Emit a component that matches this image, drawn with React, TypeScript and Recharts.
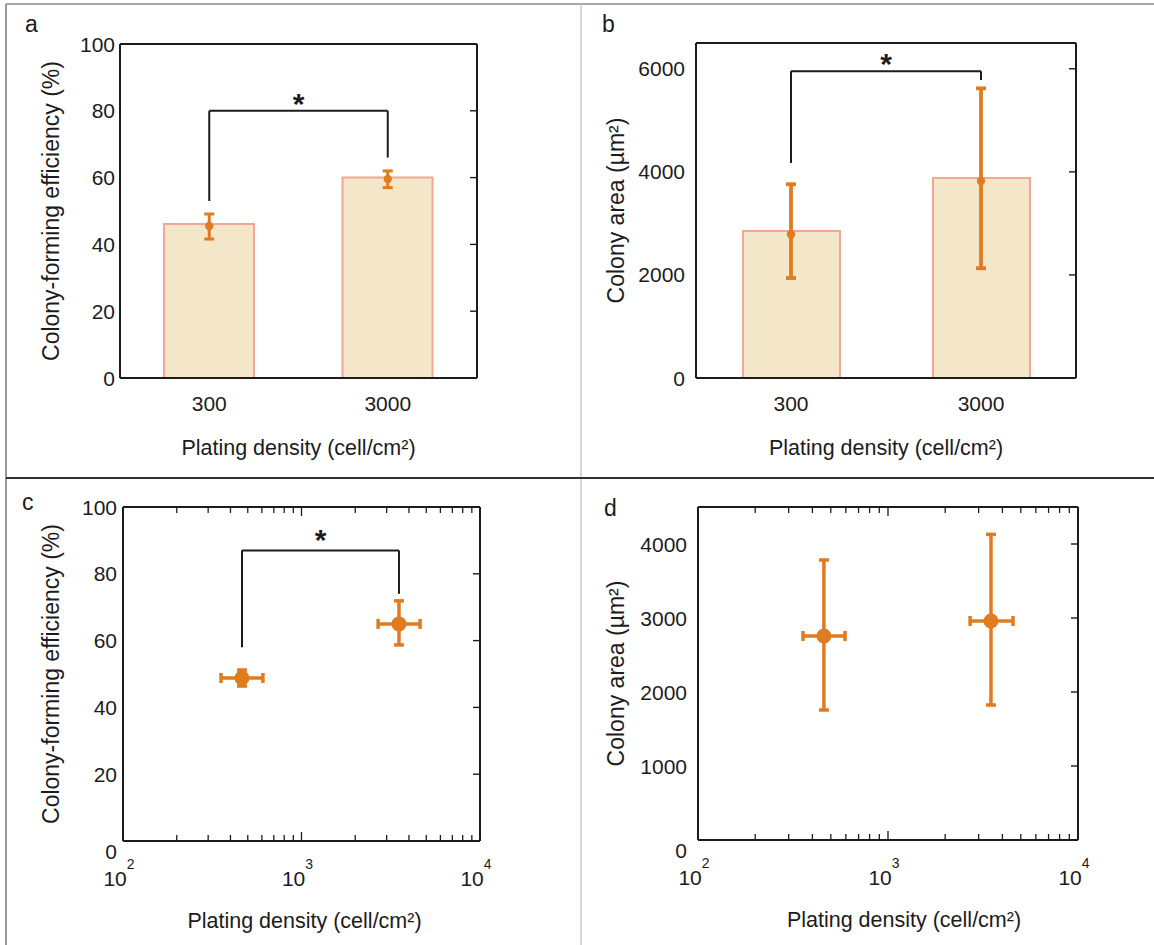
import {
  Bar,
  ComposedChart,
  ErrorBar,
  Line,
  ReferenceLine,
  Scatter,
  ScatterChart,
  XAxis,
  YAxis,
} from 'recharts';

const INK = '#1d1b1c';
const ORANGE = '#e07b20';
const BAR_FILL = '#f4e6c9';
const BAR_EDGE = '#eea893';
const FONT = '"Liberation Sans", Arial, Helvetica, sans-serif';

// panels a + b: bar charts by plating density
const densities = ['300', '3000'];
const efficiencyBars = [46.1, 60.0];
const efficiencyMeans = [45.5, 59.6];
const efficiencyErrors = [
  [3.9, 3.6],
  [2.6, 2.4],
];
const efficiencyBracket = [53, 80, 66]; // left leg end, bridge, right leg end

const areaBars = [2850, 3880];
const areaMeans = [2790, 3820];
const areaErrors = [
  [850, 970],
  [1690, 1800],
];
const areaBracket = [4170, 5950, 5780];

// panels c + d: measured density on a log axis
const cfeDensity = [464, 3516];
const cfeDensityErrors = [
  [110, 144],
  [830, 1100],
];
const cfeValues = [48.8, 65.0];
const cfeValueErrors = [
  [2.4, 2.4],
  [6.3, 6.9],
];
const cfeBracket = [58, 87, 74];

const areaDensity = [460, 3483];
const areaDensityErrors = [
  [103, 134],
  [779, 1067],
];
const areaValues = [2757, 2960];
const areaValueErrors = [
  [1000, 1027],
  [1136, 1170],
];

const pctTicks = [0, 20, 40, 60, 80, 100];
const areaTicksB = [0, 2000, 4000, 6000];
const areaTicksD = [0, 1000, 2000, 3000, 4000];
const logTicks = [
  100, 200, 300, 400, 500, 600, 700, 800, 900, 1000, 2000, 3000, 4000, 5000, 6000, 7000, 8000,
  9000, 10000,
];

const xTitle = 'Plating density (cell/cm²)';
const axisLine = { stroke: INK, strokeWidth: 2 };

function LeftTick(props: any) {
  const { x, y, payload, gap, zeroDy = 0 } = props;
  const dy = payload.value === 0 ? zeroDy : 0;
  return (
    <text x={x - gap} y={y + dy} dy="0.36em" textAnchor="end" fill={INK} fontSize={21} fontFamily={FONT}>
      {payload.value}
    </text>
  );
}

function RightTick({ x, y }: any) {
  return <line x1={x} y1={y} x2={x - 7} y2={y} stroke={INK} strokeWidth={1.4} />;
}

function CatTick({ x, y, payload }: any) {
  return (
    <text x={x} y={y + 33} textAnchor="middle" fill={INK} fontSize={21} fontFamily={FONT}>
      {payload.value}
    </text>
  );
}

function isDecade(v: number) {
  const e = Math.log10(v);
  return Math.abs(e - Math.round(e)) < 1e-6;
}

// bottom log tick: inward marks at the bottom and at the top of the box, decade labels
function LogTick({ x, y, payload, plotH }: any) {
  const major = isDecade(payload.value);
  const len = major ? 9 : 6;
  const top = y - plotH;
  return (
    <g>
      <line x1={x} y1={y} x2={x} y2={y - len} stroke={INK} strokeWidth={1.3} />
      <line x1={x} y1={top} x2={x} y2={top + len} stroke={INK} strokeWidth={1.3} />
      {major && (
        <text x={x - 4} y={y + 45} textAnchor="middle" fill={INK} fontSize={21} fontFamily={FONT}>
          10
          <tspan dy={-17} fontSize={14}>
            {Math.round(Math.log10(payload.value))}
          </tspan>
        </text>
      )}
    </g>
  );
}

function XTitle({ viewBox, dy, dx = 0 }: any) {
  const { x, y, width } = viewBox;
  return (
    <text
      x={x + width / 2 + dx}
      y={y + dy}
      textAnchor="middle"
      dominantBaseline="central"
      fill={INK}
      fontSize={21.5}
      fontFamily={FONT}
    >
      {xTitle}
    </text>
  );
}

function YTitle({ viewBox, cx, text }: any) {
  const { x, y, height } = viewBox;
  const px = x + cx;
  const py = y + height / 2;
  return (
    <text
      x={px}
      y={py}
      transform={`rotate(-90 ${px} ${py})`}
      textAnchor="middle"
      dominantBaseline="central"
      fill={INK}
      fontSize={23}
      fontFamily={FONT}
    >
      {text}
    </text>
  );
}

function Star({ viewBox, dy }: any) {
  const { x, y, width } = viewBox;
  return (
    <text
      x={x + width / 2}
      y={y + dy}
      textAnchor="middle"
      fill={INK}
      fontSize={30}
      fontWeight="bold"
      fontFamily={FONT}
    >
      *
    </text>
  );
}

function Marker({ cx, cy, r }: any) {
  return <circle cx={cx} cy={cy} r={r} fill={ORANGE} />;
}

function bracketLines(xs: (string | number)[], levels: number[], starDy: number) {
  const [leftEnd, top, rightEnd] = levels;
  const segs = [
    [
      { x: xs[0], y: leftEnd },
      { x: xs[0], y: top },
    ],
    [
      { x: xs[0], y: top },
      { x: xs[1], y: top },
    ],
    [
      { x: xs[1], y: top },
      { x: xs[1], y: rightEnd },
    ],
  ];
  return segs.map((segment, i) => (
    <ReferenceLine
      key={`br-${i}`}
      xAxisId="b"
      yAxisId="l"
      segment={segment as any}
      stroke={INK}
      strokeWidth={2}
      label={i === 1 ? <Star dy={starDy} /> : undefined}
    />
  ));
}

function BarPanel(props: any) {
  const {
    rows,
    width,
    height,
    yAxisW,
    right,
    top,
    plotH,
    domain,
    ticks,
    yTitle,
    yTitleX,
    gap,
    barSize,
    errW,
    bracket,
  } = props;
  return (
    <ComposedChart
      width={width}
      height={height}
      data={rows}
      margin={{ top: top - 1, right: right - 1, bottom: 0, left: 0 }}
    >
      <XAxis
        xAxisId="b"
        dataKey="cat"
        height={height - top - plotH}
        interval={0}
        axisLine={axisLine}
        tickLine={false}
        tickSize={0}
        tickMargin={0}
        tick={<CatTick />}
        label={<XTitle dy={70} />}
      />
      <XAxis
        xAxisId="t"
        orientation="top"
        dataKey="cat"
        height={1}
        interval={0}
        axisLine={axisLine}
        tickLine={false}
        tick={false}
      />
      <YAxis
        yAxisId="l"
        width={yAxisW}
        type="number"
        domain={domain}
        ticks={ticks}
        interval={0}
        allowDataOverflow
        axisLine={axisLine}
        tickLine={false}
        tickSize={0}
        tickMargin={0}
        tick={<LeftTick gap={gap} />}
        label={<YTitle cx={yTitleX} text={yTitle} />}
      />
      <YAxis
        yAxisId="r"
        orientation="right"
        width={1}
        type="number"
        domain={domain}
        ticks={ticks}
        interval={0}
        allowDataOverflow
        axisLine={axisLine}
        tickLine={false}
        tickSize={0}
        tickMargin={0}
        tick={<RightTick />}
      />
      <Bar
        xAxisId="b"
        yAxisId="l"
        dataKey="bar"
        barSize={barSize}
        fill={BAR_FILL}
        stroke={BAR_EDGE}
        strokeWidth={2}
        isAnimationActive={false}
      />
      <Line
        xAxisId="b"
        yAxisId="l"
        dataKey="mean"
        stroke="none"
        dot={{ r: 4.2, fill: ORANGE, stroke: ORANGE, strokeWidth: 0 }}
        activeDot={false}
        isAnimationActive={false}
      >
        <ErrorBar dataKey="err" direction="y" width={5} stroke={ORANGE} strokeWidth={errW} />
      </Line>
      {bracketLines(densities, bracket, 3)}
    </ComposedChart>
  );
}

function LogPanel(props: any) {
  const { rows, width, height, yAxisW, right, top, plotH, domain, ticks, yTitle, yTitleX, gap, titleDx, bracket } =
    props;
  return (
    <ScatterChart width={width} height={height} margin={{ top: top - 1, right: right - 1, bottom: 0, left: 0 }}>
      <XAxis
        xAxisId="b"
        type="number"
        dataKey="x"
        scale="log"
        domain={[100, 10000]}
        ticks={logTicks}
        interval={0}
        allowDataOverflow
        height={height - top - plotH}
        axisLine={axisLine}
        tickLine={false}
        tickSize={0}
        tickMargin={0}
        tick={<LogTick plotH={plotH} />}
        label={<XTitle dy={80} dx={titleDx} />}
      />
      <XAxis
        xAxisId="t"
        orientation="top"
        type="number"
        scale="log"
        domain={[100, 10000]}
        allowDataOverflow
        height={1}
        axisLine={axisLine}
        tickLine={false}
        tick={false}
      />
      <YAxis
        yAxisId="l"
        type="number"
        dataKey="y"
        width={yAxisW}
        domain={domain}
        ticks={ticks}
        interval={0}
        allowDataOverflow
        axisLine={axisLine}
        tickLine={false}
        tickSize={0}
        tickMargin={0}
        tick={<LeftTick gap={gap} zeroDy={10} />}
        label={<YTitle cx={yTitleX} text={yTitle} />}
      />
      <YAxis
        yAxisId="r"
        orientation="right"
        type="number"
        width={1}
        domain={domain}
        ticks={ticks}
        interval={0}
        allowDataOverflow
        axisLine={axisLine}
        tickLine={false}
        tickSize={0}
        tickMargin={0}
        tick={<RightTick />}
      />
      <Scatter xAxisId="b" yAxisId="l" data={rows} shape={<Marker r={7.5} />} isAnimationActive={false}>
        <ErrorBar dataKey="xErr" direction="x" width={5} stroke={ORANGE} strokeWidth={3.5} />
        <ErrorBar dataKey="yErr" direction="y" width={5} stroke={ORANGE} strokeWidth={3.5} />
      </Scatter>
      {bracket ? bracketLines(rows.map((r: any) => r.x), bracket, 0) : null}
    </ScatterChart>
  );
}

const efficiencyRows = densities.map((cat, i) => ({
  cat,
  bar: efficiencyBars[i],
  mean: efficiencyMeans[i],
  err: efficiencyErrors[i],
}));
const areaRows = densities.map((cat, i) => ({
  cat,
  bar: areaBars[i],
  mean: areaMeans[i],
  err: areaErrors[i],
}));
const cfeRows = cfeDensity.map((x, i) => ({
  x,
  y: cfeValues[i],
  xErr: cfeDensityErrors[i],
  yErr: cfeValueErrors[i],
}));
const areaLogRows = areaDensity.map((x, i) => ({
  x,
  y: areaValues[i],
  xErr: areaDensityErrors[i],
  yErr: areaValueErrors[i],
}));

const letterStyle = { fill: INK, fontSize: 23, fontFamily: FONT };

export default function App() {
  return (
    <div
      style={{
        position: 'absolute',
        left: 0,
        top: 0,
        width: 1154,
        height: 945,
        background: '#fff',
        overflow: 'hidden',
      }}
    >
      <div style={{ position: 'absolute', left: 0, top: 0 }}>
        <BarPanel
          rows={efficiencyRows}
          width={580}
          height={478}
          yAxisW={120}
          right={103}
          top={44}
          plotH={334}
          domain={[0, 100]}
          ticks={pctTicks}
          yTitle="Colony-forming efficiency (%)"
          yTitleX={51}
          gap={5}
          barSize={90}
          errW={3}
          bracket={efficiencyBracket}
        />
      </div>
      <div style={{ position: 'absolute', left: 580, top: 0 }}>
        <BarPanel
          rows={areaRows}
          width={574}
          height={478}
          yAxisW={116}
          right={78}
          top={43}
          plotH={335}
          domain={[0, 6500]}
          ticks={areaTicksB}
          yTitle="Colony area (µm²)"
          yTitleX={36}
          gap={11}
          barSize={97}
          errW={3.8}
          bracket={areaBracket}
        />
      </div>
      <div style={{ position: 'absolute', left: 0, top: 480 }}>
        <LogPanel
          rows={cfeRows}
          width={580}
          height={465}
          yAxisW={123}
          right={100}
          top={27}
          plotH={334}
          domain={[0, 100]}
          ticks={pctTicks}
          yTitle="Colony-forming efficiency (%)"
          yTitleX={51}
          gap={6}
          titleDx={3}
          bracket={cfeBracket}
        />
      </div>
      <div style={{ position: 'absolute', left: 580, top: 480 }}>
        <LogPanel
          rows={areaLogRows}
          width={574}
          height={465}
          yAxisW={118}
          right={76}
          top={27}
          plotH={333}
          domain={[0, 4500]}
          ticks={areaTicksD}
          yTitle="Colony area (µm²)"
          yTitleX={36}
          gap={11}
          titleDx={16}
        />
      </div>
      <svg
        width={1154}
        height={945}
        style={{ position: 'absolute', left: 0, top: 0, pointerEvents: 'none' }}
      >
        <line x1={6} y1={4} x2={1154} y2={4} stroke="#8a8a8a" strokeWidth={1.5} />
        <line x1={6} y1={4} x2={6} y2={945} stroke="#777" strokeWidth={1.5} />
        <line x1={581} y1={4} x2={581} y2={945} stroke="#bdbdbd" strokeWidth={1.2} />
        <line x1={6} y1={478} x2={1154} y2={478} stroke="#333" strokeWidth={2} />
        <text x={25} y={32} {...letterStyle}>
          a
        </text>
        <text x={602} y={32} {...letterStyle}>
          b
        </text>
        <text x={22} y={510} {...letterStyle}>
          c
        </text>
        <text x={604} y={516} {...letterStyle}>
          d
        </text>
      </svg>
    </div>
  );
}
